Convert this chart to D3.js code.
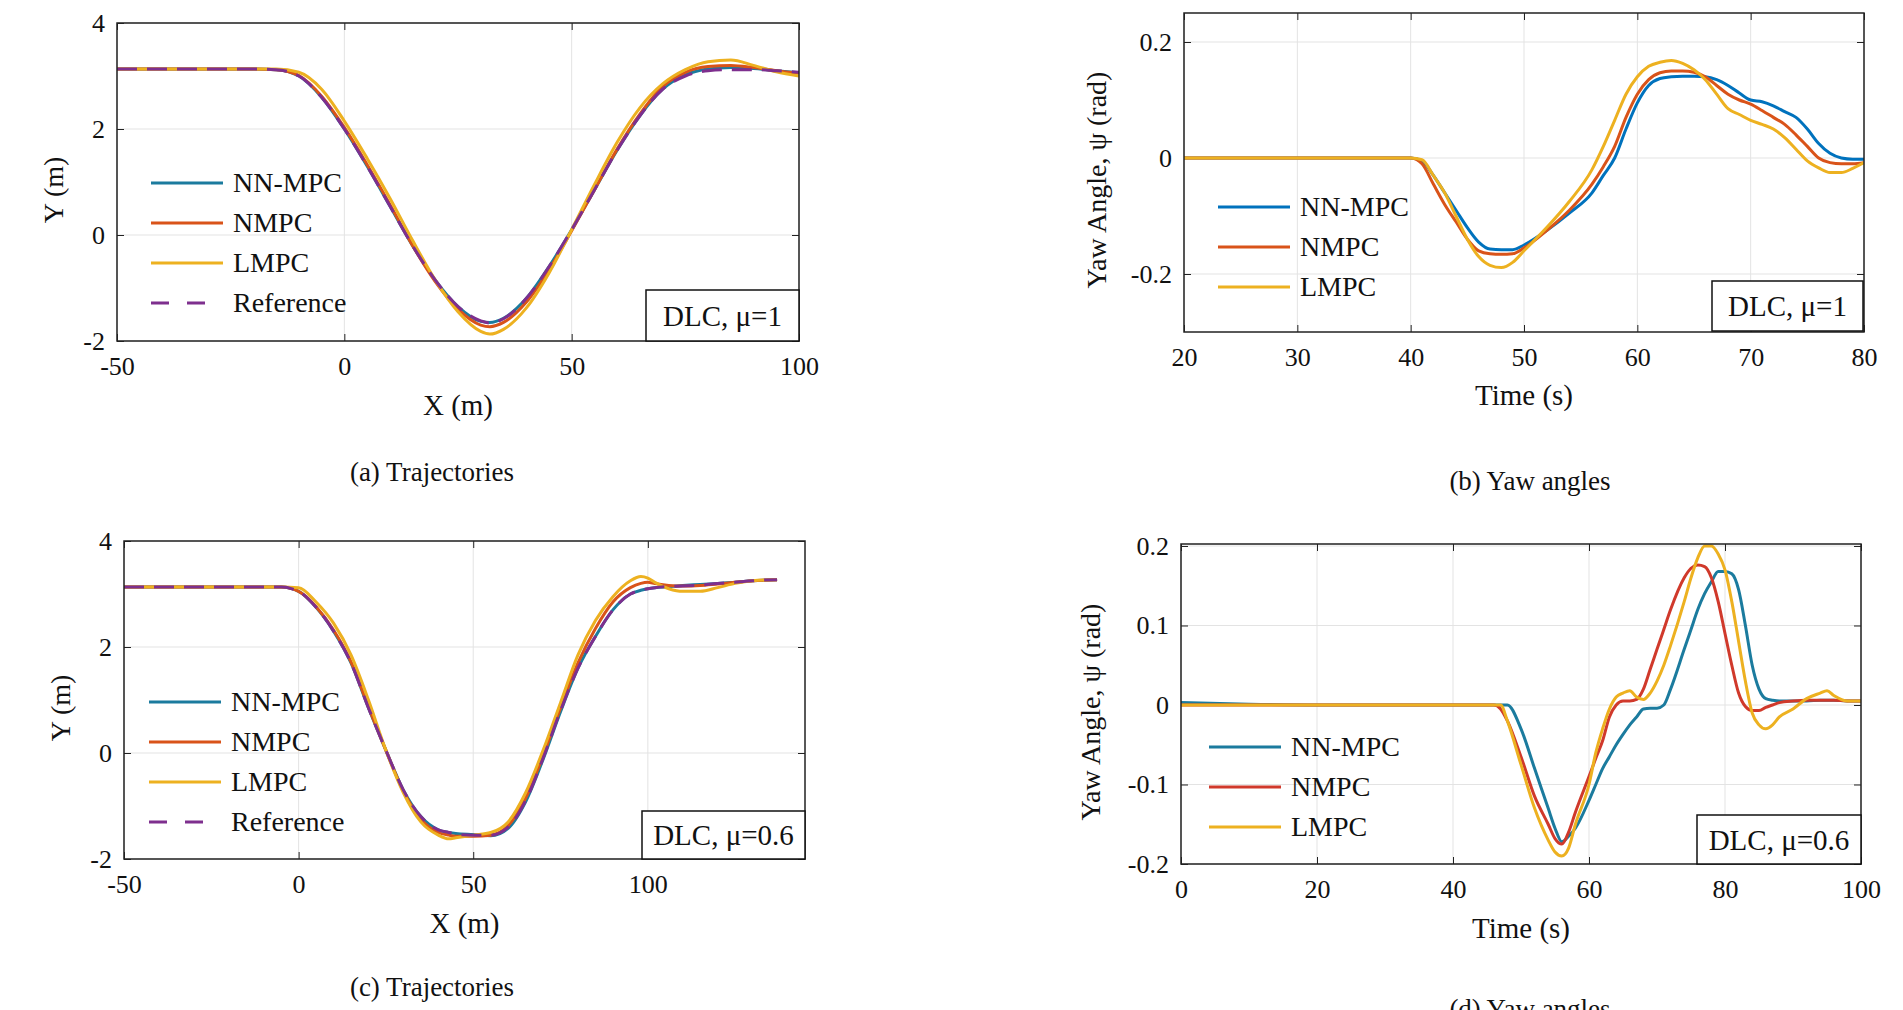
<!DOCTYPE html>
<html>
<head>
<meta charset="utf-8">
<script src="https://cdn.jsdelivr.net/npm/d3@7"></script>
<style>
  body { margin: 0; background: #fff; }
  svg text { font-family: "Liberation Serif", "DejaVu Serif", serif; fill: #111; }
</style>
</head>
<body>
<svg id="fig" width="1903" height="1010"></svg>
<script>
// ---- data ----
// (a) trajectories, DLC mu=1
const trajAX = [-50,-20,-15,-10,-5,0,5,10,15,20,25,30,32,35,40,45,50,55,60,65,70,75,80,85,90,95,100];
const trajARef  = [3.13,3.13,3.12,3.0,2.6,2.0,1.3,0.55,-0.2,-0.85,-1.35,-1.62,-1.66,-1.58,-1.2,-0.6,0.1,0.85,1.6,2.25,2.75,3.0,3.1,3.12,3.12,3.1,3.07];
const trajANN   = [3.13,3.13,3.12,3.0,2.6,2.0,1.3,0.55,-0.2,-0.85,-1.35,-1.63,-1.65,-1.57,-1.2,-0.6,0.1,0.85,1.6,2.25,2.75,3.02,3.13,3.16,3.14,3.1,3.06];
const trajANMPC = [3.13,3.13,3.12,3.01,2.62,2.03,1.33,0.58,-0.2,-0.88,-1.4,-1.7,-1.73,-1.65,-1.27,-0.66,0.08,0.85,1.62,2.28,2.8,3.07,3.18,3.2,3.16,3.1,3.05];
const trajALMPC = [3.13,3.13,3.13,3.07,2.75,2.15,1.45,0.7,-0.1,-0.85,-1.45,-1.82,-1.87,-1.78,-1.38,-0.72,0.1,0.95,1.75,2.4,2.85,3.12,3.27,3.3,3.2,3.08,3.0];

// (b) yaw angles, DLC mu=1
const yawBT     = [20,30,40,41,42,43,44,45,46,47,48,49,50,52,54,56,57,58,59,60,61,62,63,64,65,66,67,68,69,70,71,72,73,74,75,76,77,78,79,80];
const yawBNN    = [0,0,0,-0.005,-0.03,-0.06,-0.09,-0.12,-0.145,-0.157,-0.158,-0.158,-0.15,-0.125,-0.095,-0.06,-0.03,0.0,0.05,0.095,0.125,0.137,0.14,0.141,0.141,0.14,0.135,0.125,0.112,0.1,0.097,0.09,0.08,0.07,0.05,0.025,0.008,0.0,-0.002,-0.002];
const yawBNMPC  = [0,0,0,-0.01,-0.045,-0.08,-0.11,-0.14,-0.16,-0.165,-0.166,-0.165,-0.155,-0.125,-0.09,-0.045,-0.015,0.02,0.07,0.11,0.135,0.147,0.15,0.15,0.148,0.14,0.125,0.11,0.1,0.093,0.082,0.07,0.058,0.04,0.02,0.0,-0.008,-0.01,-0.01,-0.008];
const yawBLMPC  = [0,0,0,-0.003,-0.03,-0.06,-0.1,-0.14,-0.17,-0.185,-0.189,-0.18,-0.16,-0.12,-0.075,-0.02,0.02,0.065,0.11,0.14,0.158,0.165,0.168,0.163,0.152,0.135,0.11,0.085,0.075,0.065,0.058,0.05,0.035,0.015,-0.005,-0.017,-0.025,-0.025,-0.018,-0.008];

// (c) trajectories, DLC mu=0.6
const trajCX = [-50,-5,0,5,10,15,20,25,30,35,40,43,45,50,55,60,65,70,75,80,85,90,95,98,100,102,106,110,115,120,125,130,137];
const trajCRef  = [3.13,3.13,3.05,2.75,2.3,1.7,0.85,0.05,-0.7,-1.2,-1.45,-1.5,-1.53,-1.55,-1.55,-1.4,-0.9,-0.1,0.8,1.6,2.2,2.7,3.0,3.07,3.1,3.12,3.14,3.15,3.17,3.2,3.22,3.25,3.27];
const trajCNN   = [3.13,3.13,3.05,2.75,2.3,1.7,0.85,0.05,-0.7,-1.2,-1.45,-1.5,-1.52,-1.54,-1.56,-1.42,-0.92,-0.12,0.78,1.6,2.2,2.7,3.0,3.07,3.1,3.12,3.14,3.16,3.18,3.2,3.22,3.25,3.27];
const trajCNMPC = [3.13,3.13,3.05,2.76,2.32,1.72,0.87,0.05,-0.72,-1.25,-1.5,-1.55,-1.57,-1.57,-1.55,-1.37,-0.85,-0.05,0.85,1.7,2.35,2.85,3.12,3.2,3.22,3.2,3.16,3.15,3.16,3.19,3.22,3.25,3.27];
const trajCLMPC = [3.13,3.13,3.12,2.85,2.45,1.85,1.0,0.05,-0.75,-1.3,-1.55,-1.62,-1.6,-1.55,-1.5,-1.3,-0.75,0.05,0.95,1.85,2.5,2.95,3.25,3.33,3.3,3.22,3.1,3.05,3.05,3.12,3.2,3.25,3.27];

// (d) yaw angles, DLC mu=0.6
const yawDT     = [0,10,20,30,40,46,47,48,50,52,54,55,56,57,58,60,61,62,63,64,65,66,67,68,69,70,71,72,74,75,76,77,78,79,80,81,82,83,84,85,86,87,88,90,92,94,95,96,98,100];
const yawDNN    = [0.003,0.001,0,0,0,0,0,0,-0.03,-0.08,-0.13,-0.155,-0.172,-0.165,-0.155,-0.12,-0.1,-0.08,-0.065,-0.05,-0.037,-0.025,-0.015,-0.005,-0.004,-0.004,0.0,0.02,0.07,0.095,0.12,0.14,0.155,0.168,0.168,0.165,0.145,0.1,0.05,0.02,0.008,0.006,0.005,0.005,0.005,0.006,0.006,0.006,0.005,0.005];
const yawDNMPC  = [0,0,0,0,0,0,-0.005,-0.02,-0.065,-0.115,-0.15,-0.168,-0.175,-0.16,-0.135,-0.09,-0.067,-0.045,-0.015,0.0,0.005,0.005,0.007,0.02,0.045,0.07,0.095,0.12,0.16,0.172,0.176,0.174,0.16,0.13,0.09,0.05,0.015,-0.002,-0.007,-0.007,-0.003,0.0,0.003,0.005,0.006,0.006,0.006,0.006,0.005,0.005];
const yawDLMPC  = [0,0,0,0,0,0,0,-0.02,-0.075,-0.13,-0.17,-0.185,-0.19,-0.18,-0.15,-0.1,-0.06,-0.03,-0.005,0.01,0.015,0.018,0.01,0.007,0.015,0.03,0.05,0.075,0.13,0.16,0.185,0.2,0.2,0.19,0.17,0.13,0.08,0.03,-0.01,-0.025,-0.03,-0.025,-0.015,-0.005,0.008,0.015,0.018,0.012,0.005,0.005];

const colors = { nn: '#1b7b9e', nnB: '#0072bd', nmpc: '#d95319', lmpc: '#edb120', ref: '#7e2f8e' };

const svg = d3.select('#fig');

const intFmt = d => String(d);
const yawFmt = d => String(d);

function drawPanel(p) {
  const x = d3.scaleLinear().domain(p.xDomain).range([p.left, p.right]);
  const y = d3.scaleLinear().domain(p.yDomain).range([p.bottom, p.top]);
  const g = svg.append('g');

  // grid
  g.selectAll('.gx').data(p.xTicks).join('line')
    .attr('x1', d => x(d)).attr('x2', d => x(d))
    .attr('y1', p.top).attr('y2', p.bottom)
    .style('stroke', '#e3e3e3').style('stroke-width', 1);
  g.selectAll('.gy').data(p.yTicks).join('line')
    .attr('x1', p.left).attr('x2', p.right)
    .attr('y1', d => y(d)).attr('y2', d => y(d))
    .style('stroke', '#e3e3e3').style('stroke-width', 1);

  // inward ticks on all four sides
  const tl = 7;
  const axes = [
    [d3.axisBottom(x).tickValues(p.xTicks).tickSize(-tl), p.bottom, 0, intFmt, 16],
    [d3.axisTop(x).tickValues(p.xTicks).tickSize(-tl), p.top, 0, null, 10],
    [d3.axisLeft(y).tickValues(p.yTicks).tickSize(-tl), 0, p.left, p.yFmt, 12],
    [d3.axisRight(y).tickValues(p.yTicks).tickSize(-tl), 0, p.right, null, 10]
  ];
  axes.forEach(([ax, ty, tx, fmt, pad]) => {
    const a = g.append('g').attr('transform', `translate(${tx},${ty})`)
      .call(ax.tickFormat(fmt || (() => '')).tickPadding(pad));
    a.select('.domain').remove();
    a.selectAll('line').style('stroke', '#222');
    a.selectAll('text').style('font-family', '"Liberation Serif", serif')
      .style('font-size', '26px').style('fill', '#111');
  });
  // lift the lowest y label like the original so it clears the x labels
  g.selectAll('text').filter(function () { return false; });

  // lines
  const clipId = 'clip' + p.id;
  svg.append('clipPath').attr('id', clipId).append('rect')
    .attr('x', p.left).attr('y', p.top).attr('width', p.right - p.left).attr('height', p.bottom - p.top);
  const line = d3.line().x(d => x(d[0])).y(d => y(d[1])).curve(d3.curveMonotoneX);
  p.series.forEach(s => {
    g.append('path').datum(p.xs.map((v, i) => [v, s.values[i]]))
      .attr('d', line).attr('clip-path', `url(#${clipId})`)
      .style('fill', 'none').style('stroke', s.color).style('stroke-width', 3)
      .style('stroke-dasharray', s.dash ? '20,10' : null);
  });

  // frame
  g.append('rect').attr('x', p.left).attr('y', p.top)
    .attr('width', p.right - p.left).attr('height', p.bottom - p.top)
    .style('fill', 'none').style('stroke', '#222').style('stroke-width', 1.5);

  // legend
  p.series.forEach((s, i) => {
    const ly = p.legend.y + i * p.legend.dy;
    g.append('line').attr('x1', p.legend.x).attr('x2', p.legend.x + 72)
      .attr('y1', ly).attr('y2', ly)
      .style('stroke', s.color).style('stroke-width', 3)
      .style('stroke-dasharray', s.dash ? '18,18' : null);
    g.append('text').attr('x', p.legend.x + 82).attr('y', ly + 9)
      .style('font-size', '28px').text(s.name);
  });

  // annotation box
  g.append('rect').attr('x', p.box[0]).attr('y', p.box[1])
    .attr('width', p.box[2]).attr('height', p.box[3])
    .style('fill', '#fff').style('stroke', '#111').style('stroke-width', 1.5);
  g.append('text').attr('x', p.box[0] + p.box[2] / 2).attr('y', p.box[1] + p.box[3] / 2 + 10)
    .attr('text-anchor', 'middle').style('font-size', '29px').text(p.boxText);

  // axis labels and caption
  g.append('text').attr('x', (p.left + p.right) / 2).attr('y', p.xLabelY)
    .attr('text-anchor', 'middle').style('font-size', '29px').text(p.xLabel);
  g.append('text').attr('transform', `translate(${p.yLabelX},${p.yLabelY}) rotate(-90)`)
    .attr('text-anchor', 'middle').style('font-size', '28px').text(p.yLabel);
  g.append('text').attr('x', p.captionX).attr('y', p.captionY)
    .attr('text-anchor', 'middle').style('font-size', '27px').text(p.caption);
}

drawPanel({
  id: 'a', left: 117, right: 799, top: 23, bottom: 341,
  xDomain: [-50, 100], yDomain: [-2, 4], xTicks: [-50, 0, 50, 100], yTicks: [-2, 0, 2, 4], yFmt: intFmt,
  xs: trajAX,
  series: [
    { name: 'NN-MPC', values: trajANN, color: colors.nn },
    { name: 'NMPC', values: trajANMPC, color: colors.nmpc },
    { name: 'LMPC', values: trajALMPC, color: colors.lmpc },
    { name: 'Reference', values: trajARef, color: colors.ref, dash: true }
  ],
  legend: { x: 151, y: 183, dy: 40 },
  box: [646, 290, 153, 51], boxText: 'DLC, μ=1',
  xLabel: 'X (m)', xLabelY: 415, yLabel: 'Y (m)', yLabelX: 63, yLabelY: 190,
  caption: '(a) Trajectories', captionX: 432, captionY: 481
});

drawPanel({
  id: 'b', left: 1184, right: 1864, top: 13, bottom: 332,
  xDomain: [20, 80], yDomain: [-0.3, 0.25], xTicks: [20, 30, 40, 50, 60, 70, 80], yTicks: [-0.2, 0, 0.2], yFmt: yawFmt,
  xs: yawBT,
  series: [
    { name: 'NN-MPC', values: yawBNN, color: colors.nnB },
    { name: 'NMPC', values: yawBNMPC, color: colors.nmpc },
    { name: 'LMPC', values: yawBLMPC, color: colors.lmpc }
  ],
  legend: { x: 1218, y: 207, dy: 40 },
  box: [1712, 281, 151, 50], boxText: 'DLC, μ=1',
  xLabel: 'Time (s)', xLabelY: 405, yLabel: 'Yaw Angle, ψ (rad)', yLabelX: 1106, yLabelY: 180,
  caption: '(b) Yaw angles', captionX: 1530, captionY: 490
});

drawPanel({
  id: 'c', left: 124, right: 805, top: 541, bottom: 859,
  xDomain: [-50, 145], yDomain: [-2, 4], xTicks: [-50, 0, 50, 100], yTicks: [-2, 0, 2, 4], yFmt: intFmt,
  xs: trajCX,
  series: [
    { name: 'NN-MPC', values: trajCNN, color: colors.nn },
    { name: 'NMPC', values: trajCNMPC, color: colors.nmpc },
    { name: 'LMPC', values: trajCLMPC, color: colors.lmpc },
    { name: 'Reference', values: trajCRef, color: colors.ref, dash: true }
  ],
  legend: { x: 149, y: 702, dy: 40 },
  box: [642, 811, 163, 48], boxText: 'DLC, μ=0.6',
  xLabel: 'X (m)', xLabelY: 933, yLabel: 'Y (m)', yLabelX: 70, yLabelY: 708,
  caption: '(c) Trajectories', captionX: 432, captionY: 996
});

drawPanel({
  id: 'd', left: 1181, right: 1861, top: 544, bottom: 864,
  xDomain: [0, 100], yDomain: [-0.2, 0.2025], xTicks: [0, 20, 40, 60, 80, 100], yTicks: [-0.2, -0.1, 0, 0.1, 0.2], yFmt: yawFmt,
  xs: yawDT,
  series: [
    { name: 'NN-MPC', values: yawDNN, color: colors.nn },
    { name: 'NMPC', values: yawDNMPC, color: '#d0392b' },
    { name: 'LMPC', values: yawDLMPC, color: colors.lmpc }
  ],
  legend: { x: 1209, y: 747, dy: 40 },
  box: [1697, 815, 164, 49], boxText: 'DLC, μ=0.6',
  xLabel: 'Time (s)', xLabelY: 938, yLabel: 'Yaw Angle, ψ (rad)', yLabelX: 1100, yLabelY: 712,
  caption: '(d) Yaw angles', captionX: 1530, captionY: 1018
});

// the original prints negative ticks with a plain hyphen
svg.selectAll('.tick text').text(function () { return d3.select(this).text().replace('−', '-'); });
</script>
</body>
</html>
